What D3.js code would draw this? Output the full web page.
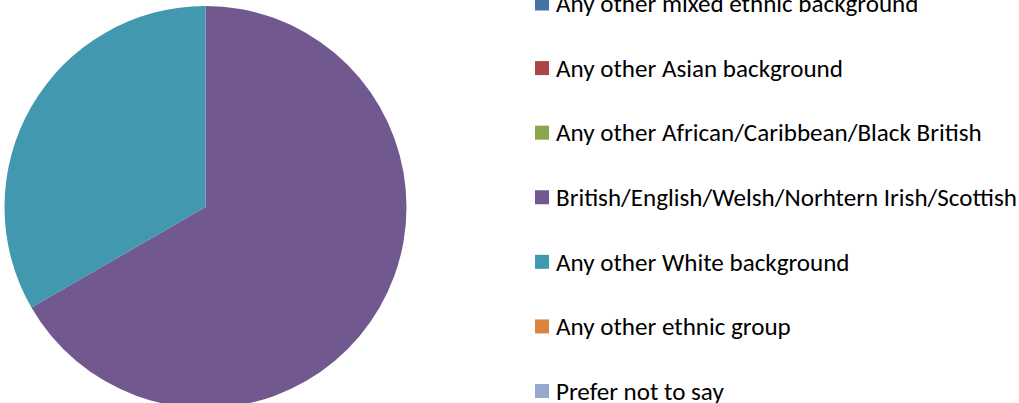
<!DOCTYPE html>
<html><head><meta charset="utf-8">
<script src="https://cdn.jsdelivr.net/npm/d3@7"></script>
<style>body{margin:0;background:#fff;overflow:hidden}</style>
</head><body>
<svg id="c" width="1019" height="403"></svg>
<script>
const categories = ["Any other mixed ethnic background","Any other Asian background","Any other African/Caribbean/Black British","British/English/Welsh/Norhtern Irish/Scottish","Any other White background","Any other ethnic group","Prefer not to say"];
const values = [0,0,0,2,1,0,0];
const colors = ["#4572A7","#AA4643","#89A54E","#71588F","#4198AF","#DB843D","#93A9CF"];

const svg = d3.select("#c");
const cx = 205.5, cy = 207, r = 201;
const pie = d3.pie().sort(null).value(d => d)(values);
const arc = d3.arc().innerRadius(0).outerRadius(r);
svg.append("g").attr("transform", `translate(${cx},${cy})`)
  .selectAll("path").data(pie).enter().append("path")
  .attr("d", arc).attr("fill", (d,i) => colors[i]);

const legY = d3.scalePoint().domain(categories).range([3.5, 391]);
const lg = svg.append("g");
const items = lg.selectAll("g").data(categories).enter().append("g")
  .attr("transform", d => `translate(535,${legY(d)})`);
items.append("rect").attr("x",0).attr("y",-7).attr("width",14).attr("height",14)
  .attr("fill",(d,i)=>colors[i]);
const texts = items.append("text").attr("x",21).attr("dy","0.35em")
  .attr("font-family","Carlito, Lato, 'Open Sans', sans-serif").attr("font-size",22)
  .attr("fill","#000").text(d=>d);
// fit longest label width to reference (~461px)
const longest = texts.filter(d => d === categories[3]).node();
const w = longest.getComputedTextLength();
const fs = 22 * 461 / w;
texts.attr("font-size", fs);
</script>
</body></html>
